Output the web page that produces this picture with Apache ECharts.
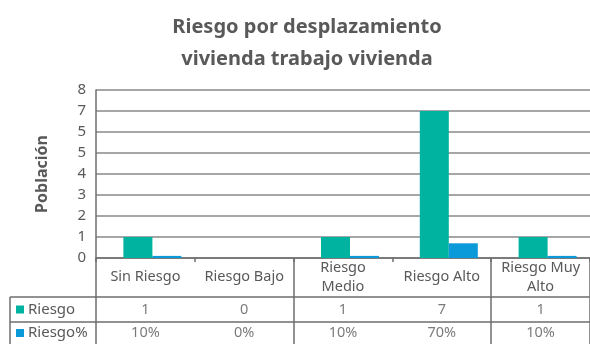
<!DOCTYPE html>
<html>
<head>
<meta charset="utf-8">
<script src="https://cdn.jsdelivr.net/npm/echarts@6/dist/echarts.min.js"></script>
<style>
  html, body { margin: 0; padding: 0; background: #ffffff; }
  #chart { width: 590px; height: 344px; }
</style>
</head>
<body>
<div id="chart"></div>
<script>
// Risk categories and the two series shown as bars and in the data table
const categories = ['Sin Riesgo', 'Riesgo Bajo', 'Riesgo Medio', 'Riesgo Alto', 'Riesgo Muy Alto'];
const categoryLabels = ['Sin Riesgo', 'Riesgo Bajo', 'Riesgo\nMedio', 'Riesgo Alto', 'Riesgo Muy\nAlto'];
const riesgo = [1, 0, 1, 7, 1];
const riesgoPct = [0.1, 0, 0.1, 0.7, 0.1];
const yTickLabels = ['0', '1', '2', '3', '4', '5', '5', '7', '8'];
const seriesNames = ['Riesgo', 'Riesgo%'];

const TEAL = '#00b2a0';
const BLUE = '#0a9ad9';
const TEXT = '#595959';
const LINE = '#6e6e6e';
const FONT = 'Noto Sans';

const chart = echarts.init(document.getElementById('chart'), null, { renderer: 'canvas' });

const tableX = { left: 96, width: 500 };

function tableXAxis(gridIndex, showLine) {
  return {
    type: 'category',
    gridIndex: gridIndex,
    data: categories,
    position: 'top',
    axisLine: { show: showLine, lineStyle: { color: LINE, width: 1.5 } },
    axisTick: { show: false },
    axisLabel: { show: false },
    splitLine: { show: true, lineStyle: { color: LINE, width: 1.5 } }
  };
}

function rowYAxis(gridIndex, name, color) {
  return {
    type: 'category',
    gridIndex: gridIndex,
    data: [name],
    axisLine: { show: false },
    axisTick: { show: false },
    axisLabel: {
      margin: 80,
      align: 'left',
      formatter: v => '{k|}{t|' + v + '}',
      rich: {
        k: { width: 8, height: 8, backgroundColor: color },
        t: { color: TEXT, fontSize: 15, fontFamily: FONT, padding: [0, 0, 0, 4] }
      }
    }
  };
}

function cellSeries(gridIndex, values, fmt) {
  return {
    type: 'scatter',
    xAxisIndex: gridIndex,
    yAxisIndex: gridIndex,
    symbolSize: 0,
    silent: true,
    data: values.map((v, i) => [i, 0, v]),
    label: {
      show: true,
      position: 'inside',
      color: TEXT,
      fontSize: 14.5,
      fontFamily: FONT,
      formatter: p => fmt(p.data[2])
    }
  };
}

const option = {
  backgroundColor: '#ffffff',
  animation: false,
  title: {
    text: 'Riesgo por desplazamiento\nvivienda trabajo vivienda',
    left: 302,
    textAlign: 'center',
    top: 6,
    textStyle: { color: TEXT, fontSize: 20, fontWeight: 'bold', fontFamily: FONT, lineHeight: 32 }
  },
  grid: [
    { left: tableX.left, width: tableX.width, top: 90, height: 168 },
    { left: tableX.left, width: tableX.width, top: 258, height: 39 },
    { left: tableX.left, width: tableX.width, top: 297, height: 25 },
    { left: tableX.left, width: tableX.width, top: 322, height: 25 }
  ],
  xAxis: [
    {
      type: 'category',
      gridIndex: 0,
      data: categories,
      axisLine: { show: true, lineStyle: { color: LINE, width: 1.5 } },
      axisTick: { show: true, length: 4, lineStyle: { color: LINE, width: 1.5 } },
      axisLabel: {
        interval: 0,
        margin: 19,
        verticalAlign: 'middle',
        color: TEXT,
        fontSize: 14.5,
        fontFamily: FONT,
        lineHeight: 19,
        formatter: (v, i) => categoryLabels[i]
      }
    },
    tableXAxis(1, false),
    tableXAxis(2, true),
    tableXAxis(3, true)
  ],
  yAxis: [
    {
      type: 'value',
      gridIndex: 0,
      min: 0,
      max: 8,
      interval: 1,
      name: 'Población',
      nameLocation: 'middle',
      nameGap: 46,
      nameRotate: 90,
      nameTextStyle: { color: TEXT, fontSize: 16, fontWeight: 'bold', fontFamily: FONT },
      axisLine: { show: true, lineStyle: { color: LINE, width: 1.5 } },
      axisTick: { show: false },
      axisLabel: {
        margin: 10,
        color: TEXT,
        fontSize: 15,
        fontFamily: FONT,
        formatter: v => yTickLabels[Math.round(v)]
      },
      splitLine: { show: true, lineStyle: { color: '#888888', width: 1.5 } }
    },
    { type: 'value', gridIndex: 1, show: false, min: 0, max: 1 },
    rowYAxis(2, seriesNames[0], TEAL),
    rowYAxis(3, seriesNames[1], BLUE)
  ],
  series: [
    {
      // empty leading slot: the bar pair sits right of each category's centre
      type: 'bar',
      xAxisIndex: 0,
      yAxisIndex: 0,
      data: [],
      barWidth: 14,
      barGap: '0%',
      silent: true
    },
    {
      name: seriesNames[0],
      type: 'bar',
      xAxisIndex: 0,
      yAxisIndex: 0,
      data: riesgo,
      barWidth: 29,
      barGap: '0%',
      itemStyle: { color: TEAL }
    },
    {
      name: seriesNames[1],
      type: 'bar',
      xAxisIndex: 0,
      yAxisIndex: 0,
      data: riesgoPct,
      barWidth: 29,
      barGap: '0%',
      itemStyle: { color: BLUE }
    },
    cellSeries(2, riesgo, v => String(v)),
    cellSeries(3, riesgoPct, v => Math.round(v * 100) + '%')
  ],
  graphic: [
    // header cells of the data table, left of the category columns
    { type: 'line', shape: { x1: 10, y1: 297, x2: 96, y2: 297 }, style: { stroke: LINE, lineWidth: 1.5 } },
    { type: 'line', shape: { x1: 10, y1: 322, x2: 96, y2: 322 }, style: { stroke: LINE, lineWidth: 1.5 } },
    { type: 'line', shape: { x1: 10, y1: 297, x2: 10, y2: 350 }, style: { stroke: LINE, lineWidth: 1.5 } }
  ]
};

chart.setOption(option);
</script>
</body>
</html>
